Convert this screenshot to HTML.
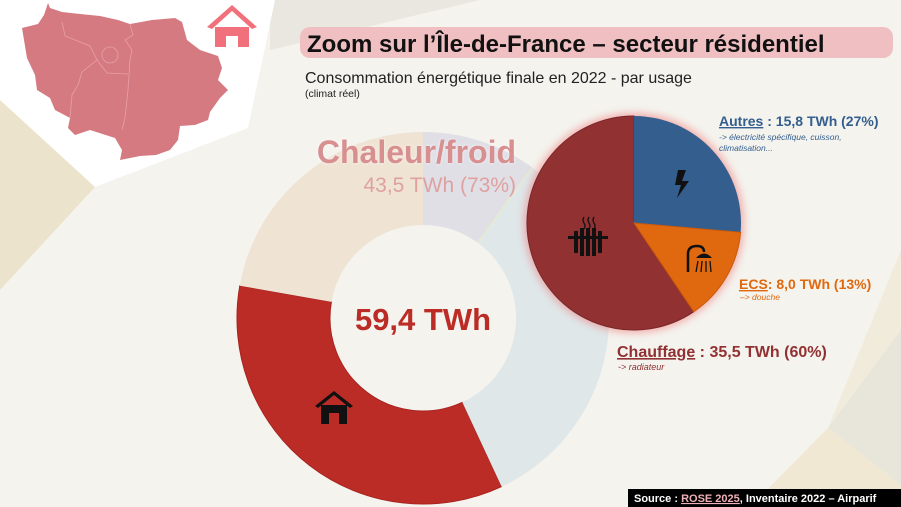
<!DOCTYPE html>
<html><head><meta charset="utf-8"><style>
html,body{margin:0;padding:0;width:901px;height:507px;overflow:hidden;background:#f4f3ee}
svg{display:block;font-family:"Liberation Sans",sans-serif}
</style></head><body>
<svg width="901" height="507" viewBox="0 0 901 507" xmlns="http://www.w3.org/2000/svg">
<defs>
<filter id="glow" x="-20%" y="-20%" width="140%" height="140%"><feGaussianBlur stdDeviation="4"/></filter>
<filter id="tg" x="-10%" y="-30%" width="120%" height="160%"><feGaussianBlur stdDeviation="1.5"/></filter>
</defs>
<rect width="901" height="507" fill="#f4f3ee"/>
<!-- background shapes -->
<polygon points="0,100 60,125 95,187 0,290" fill="#ece3cc"/>
<polygon points="270,0 480,0 270,50" fill="#e9e7e0"/>
<polygon points="828,428 901,250 901,330 870,420" fill="#f1ebdc"/>
<polygon points="828,428 750,507 901,507 901,485" fill="#f0e8d3"/>
<polygon points="828,428 901,330 901,485" fill="#e8e5da"/>
<!-- white panel -->
<polygon points="0,0 275,0 248,128 95,187 0,100" fill="#ffffff"/>
<!-- map -->
<path d="M48,3 L50,8 L62,12 L80,14 L100,16 L118,20 L130,24 L152,20 L175,18 L182,22 L187,40 L200,50 L218,56 L222,68 L218,80 L228,90 L220,98 L210,112 L208,120 L195,125 L180,126 L178,140 L170,150 L156,155 L140,156 L120,160 L122,150 L115,138 L90,130 L75,135 L68,128 L70,118 L55,110 L50,98 L37,90 L35,75 L27,58 L22,28 L38,24 L44,15 Z" fill="#d67a82"/>
<g fill="none" stroke="#e7a0a6" stroke-width="0.8">
<path d="M62,22 L65,36 L90,46 L97,60 L82,72 L78,85 L72,95 L70,118"/>
<path d="M130,24 L133,35 L125,40 L132,50 L130,60 L128,90 L125,118 L122,130"/>
<circle cx="110" cy="55" r="8"/>
<path d="M97,60 L107,73 L128,74"/>
</g>
<!-- house icon top -->
<g fill="#f0717b"><polygon points="207,27 232,5 257,27 252,29 232,11 212,29"/><path d="M215,27 L249,27 L249,47 L238,47 L238,36 L226,36 L226,47 L215,47 Z"/></g>
<!-- title -->
<rect x="300" y="27" width="593" height="31" rx="10" fill="#f0bfc2"/>
<text x="307" y="52" font-size="24" font-weight="bold" fill="#111">Zoom sur l’Île-de-France – secteur résidentiel</text>
<text x="305" y="83" font-size="16" fill="#222">Consommation énergétique finale en 2022 - par usage</text>
<text x="305" y="97" font-size="10.5" fill="#222">(climat réel)</text>
<!-- donut -->
<path d="M501.6,486.6 A186,186 0 0 1 239.8,285.7 L331.4,301.9 A93,93 0 0 0 462.3,402.3 Z" fill="#bc2c27" stroke="#a8231f" stroke-width="1"/>
<path d="M239.8,285.7 A186,186 0 0 1 423,132 L423,225 A93,93 0 0 0 331.4,301.9 Z" fill="#efe3d4"/>
<path d="M423,132 A186,186 0 0 1 532.3,167.5 L477.7,242.8 A93,93 0 0 0 423,225 Z" fill="#e0dfe6"/>
<path d="M532.3,167.5 A186,186 0 0 1 501.6,486.6 L462.3,402.3 A93,93 0 0 0 477.7,242.8 Z" fill="#dfe7e9"/>
<line x1="532.3" y1="167.5" x2="477.7" y2="242.8" stroke="#e9edc6" stroke-width="1"/>
<text x="423" y="330" font-size="31" font-weight="bold" fill="#bc2c27" text-anchor="middle">59,4 TWh</text>
<g fill="#111"><polygon points="315,406 334,391 353,406 350,408 334,395 318,408"/><path d="M321,405 L347,405 L347,424 L339,424 L339,413 L329,413 L329,424 L321,424 Z"/></g>
<!-- Chaleur label -->
<g filter="url(#tg)" opacity="0.6"><text x="516" y="163" font-size="32" font-weight="bold" fill="#fff" text-anchor="end">Chaleur/froid</text></g>
<text x="516" y="163" font-size="32" font-weight="bold" fill="#d88f90" text-anchor="end">Chaleur/froid</text>
<text x="516" y="192" font-size="21" fill="#dfa0a0" text-anchor="end">43,5 TWh (73%)</text>
<!-- pie -->
<circle cx="634" cy="223" r="110" fill="#f06a6a" opacity="0.5" filter="url(#glow)"/>
<path d="M634,223 L693.8,311.7 A107,107 0 1 1 634,116 Z" fill="#913132" stroke="#7a2628" stroke-width="1"/>
<path d="M634,223 L634,116 A107,107 0 0 1 740.6,232.3 Z" fill="#335e8e"/>
<path d="M634,223 L740.6,232.3 A107,107 0 0 1 693.8,311.7 Z" fill="#e0680f" stroke="#c95a0c" stroke-width="1"/>
<!-- icons in pie -->
<polygon points="678,170 686,170 682,181 689,181 677,198 681,185 675,185" fill="#111"/>
<g fill="#111"><rect x="574" y="231" width="4" height="22"/><rect x="580" y="228" width="4" height="28"/><rect x="586" y="228" width="4" height="28"/><rect x="592" y="228" width="4" height="28"/><rect x="598" y="231" width="4" height="22"/><rect x="568" y="236" width="40" height="3"/>
<path d="M584,217 q-2,3 0,6 q2,3 0,6" stroke="#111" stroke-width="1.3" fill="none"/><path d="M589,217 q-2,3 0,6 q2,3 0,6" stroke="#111" stroke-width="1.3" fill="none"/><path d="M594,217 q-2,3 0,6 q2,3 0,6" stroke="#111" stroke-width="1.3" fill="none"/></g>
<g fill="none" stroke="#111" stroke-width="2.5"><path d="M688,272 L688,254 Q688,246 697,246 Q704,246 704,252"/></g>
<path d="M696,258 Q704,249 712,258 Z" fill="#111"/>
<g stroke="#111" stroke-width="1.3"><line x1="698" y1="261" x2="696" y2="272"/><line x1="702" y1="261" x2="701" y2="272"/><line x1="706" y1="261" x2="706" y2="272"/><line x1="710" y1="261" x2="711" y2="272"/></g>
<!-- labels -->
<text x="719" y="126" font-size="14" font-weight="bold" fill="#335e8e"><tspan text-decoration="underline">Autres</tspan> : 15,8 TWh (27%)</text>
<text x="719" y="140" font-size="8.5" font-style="italic" fill="#335e8e">-&gt; électricité spécifique, cuisson,</text>
<text x="719" y="151" font-size="8.5" font-style="italic" fill="#335e8e">climatisation...</text>
<text x="739" y="289" font-size="14" font-weight="bold" fill="#e0680f"><tspan text-decoration="underline">ECS</tspan>: 8,0 TWh (13%)</text>
<text x="740" y="300" font-size="8.5" font-style="italic" fill="#e0680f">–&gt; douche</text>
<text x="617" y="357" font-size="16" font-weight="bold" fill="#913132"><tspan text-decoration="underline">Chauffage</tspan> : 35,5 TWh (60%)</text>
<text x="618" y="370" font-size="9" font-style="italic" fill="#913132">-&gt; radiateur</text>
<!-- source -->
<rect x="628" y="489" width="273" height="18" fill="#000"/>
<text x="634" y="502" font-size="11" font-weight="bold" fill="#fff">Source : <tspan fill="#f0b0b6" text-decoration="underline">ROSE 2025</tspan>, Inventaire 2022 – Airparif</text>
</svg>
</body></html>
